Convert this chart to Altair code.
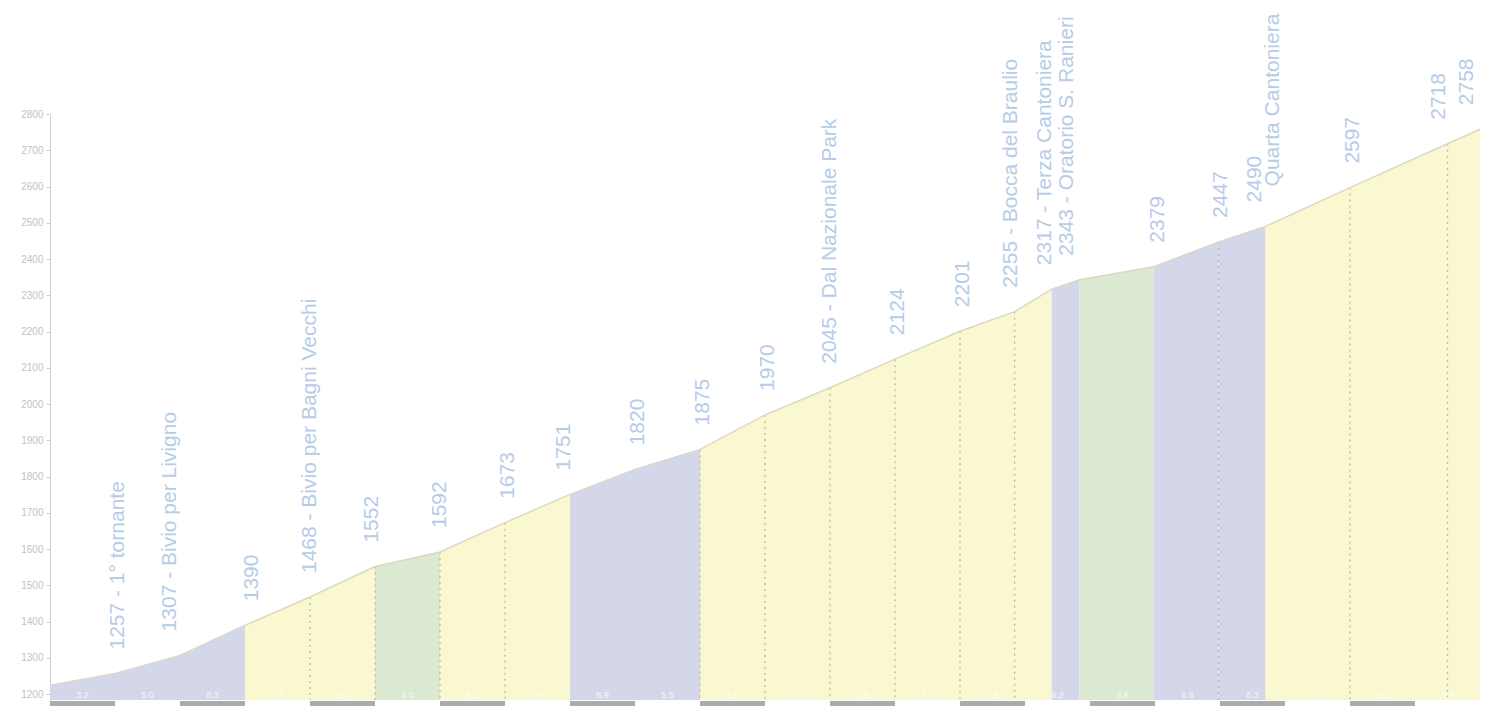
import altair as alt
import pandas as pd

# profile vertices (distance in km, elevation in m)
km = [0, 1, 2, 3, 4, 5, 6, 7, 8, 9, 10, 11, 12, 13, 14, 14.84, 15.41, 15.84,
      16.98, 17.98, 18.70, 20.0, 21.5, 22.0]
elev = [1225, 1257, 1307, 1390, 1468, 1552, 1592, 1673, 1751, 1820, 1875, 1970,
        2045, 2124, 2201, 2255, 2317, 2343, 2379, 2447, 2490, 2597, 2718, 2758]
# class of each segment between consecutive vertices
seg_class = ["L", "L", "L", "Y", "Y", "G", "Y", "Y", "L", "L", "Y", "Y", "Y",
             "Y", "Y", "Y", "L", "G", "L", "L", "Y", "Y", "Y"]

# vertex indices that carry a dotted marker line
dotted_idx = [4, 5, 6, 7, 10, 11, 12, 13, 14, 15, 19, 21, 22]

# place labels
label_text = ["1257 - 1° tornante", "1307 - Bivio per Livigno", "1390",
              "1468 - Bivio per Bagni Vecchi", "1552", "1592", "1673", "1751",
              "1820", "1875", "1970", "2045 - Dal Nazionale Park", "2124", "2201",
              "2255 - Bocca del Braulio", "2317 - Terza Cantoniera",
              "2343 - Oratorio S. Ranieri", "2379", "2447", "2490", "2597",
              "2718", "2758"]
label_km = [1.05, 1.84, 3.1, 4.0, 4.95, 6.0, 7.05, 7.9, 9.05, 10.05, 11.05, 12.0,
            13.05, 14.05, 14.78, 15.3, 15.64, 17.05, 18.02, 18.54, 20.05, 21.37, 21.8]
label_elev = [1257, 1307, 1390, 1468, 1552, 1592, 1673, 1751, 1820, 1875, 1970,
              2045, 2124, 2201, 2255, 2317, 2343, 2379, 2447, 2490, 2597, 2718, 2758]
extra_text = ["Quarta Cantoniera"]
extra_km = [18.82]
extra_elev = [2490]

# per-km gradient labels (faint, at the bottom of each km)
grad_km = [k + 0.5 for k in range(22)]
grad_text = ["3.2", "5.0", "8.3", "7.8", "8.4", "4.0", "8.1", "7.8", "6.9", "5.5",
             "9.5", "7.5", "7.9", "7.7", "7.6", "6.2", "3.6", "6.8", "6.3", "7.2",
             "8.1", "8.0"]

# km bar (gray for even km)
bar_start = [k for k in range(0, 22, 2)]

y_ticks = list(range(1200, 2801, 100))
y_min, y_max = 1184, 2800

seg_rows = []
for i, c in enumerate(seg_class):
    seg_rows.append({"seg": i, "km": km[i], "elev": elev[i], "cls": c})
    seg_rows.append({"seg": i, "km": km[i + 1], "elev": elev[i + 1], "cls": c})
seg_df = pd.DataFrame(seg_rows)
vert_df = pd.DataFrame({"km": km, "elev": elev})
dot_df = pd.DataFrame({"km": [km[i] for i in dotted_idx], "elev": [elev[i] for i in dotted_idx]})
lab_df = pd.DataFrame({"km": label_km, "elev": label_elev, "text": label_text})
extra_df = pd.DataFrame({"km": extra_km, "elev": extra_elev, "text": extra_text})
grad_df = pd.DataFrame({"km": grad_km, "text": grad_text})
bar_df = pd.DataFrame({"k0": bar_start, "k1": [k + 1 for k in bar_start]})

xs = alt.Scale(domain=[0, 22], nice=False, zero=False)
ys = alt.Scale(domain=[y_min, y_max], nice=False, zero=False)
y_axis = alt.Axis(values=y_ticks, tickCount=len(y_ticks), title=None, grid=False,
                  format="d", labelFontSize=10, labelColor="#c2c2c2",
                  domainColor="#d0d0d0", tickColor="#d0d0d0", tickSize=4,
                  labelPadding=3, labelOverlap=False, labelFont="Liberation Sans")


def X(f="km:Q"):
    return alt.X(f, scale=xs, axis=None)


def Y(f="elev:Q"):
    return alt.Y(f, scale=ys, axis=y_axis)


areas = alt.Chart(seg_df).mark_area(interpolate="linear", opacity=1).encode(
    x=X(), y=Y(), y2=alt.datum(y_min), detail="seg:N",
    color=alt.Color("cls:N", legend=None,
                    scale=alt.Scale(domain=["L", "Y", "G"],
                                    range=["#d4d7ea", "#f9f8d0", "#dae9cf"])),
)

line = alt.Chart(vert_df).mark_line(color="#dcd8c8", strokeWidth=1.5).encode(x=X(), y=Y())

dots = alt.Chart(dot_df).mark_rule(color="#b9b9a8", strokeDash=[2, 4], strokeWidth=1.3).encode(
    x=X(), y=Y(), y2=alt.datum(y_min))

labels = alt.Chart(lab_df).mark_text(
    angle=270, align="left", baseline="middle", dx=24, fontSize=21,
    font="Liberation Sans", color="#b6cce8").encode(x=X(), y=Y(), text="text:N")

extra = alt.Chart(extra_df).mark_text(
    angle=270, align="left", baseline="middle", dx=40, fontSize=21,
    font="Liberation Sans", color="#b6cce8").encode(x=X(), y=Y(), text="text:N")

grads = alt.Chart(grad_df).mark_text(
    fontSize=9, font="Liberation Sans", color="#ffffff", opacity=0.8).encode(
    x=X(), y=alt.datum(1197), text="text:N")

bar = alt.Chart(bar_df).mark_rect(color="#ababab").encode(
    x=X("k0:Q"), x2="k1:Q", y=alt.value(587), y2=alt.value(594))

chart = alt.layer(areas, dots, line, grads, labels, extra, bar).properties(
    width=1430, height=586,
    padding={"left": 42, "top": 106, "right": 4, "bottom": 6},
    autosize=alt.AutoSizeParams(type="none"),
).configure_view(stroke=None).configure_axisY(tickCount=len(y_ticks), labelOverlap=False)

chart.save("out.html", embed_options={"renderer": "svg", "actions": False})
